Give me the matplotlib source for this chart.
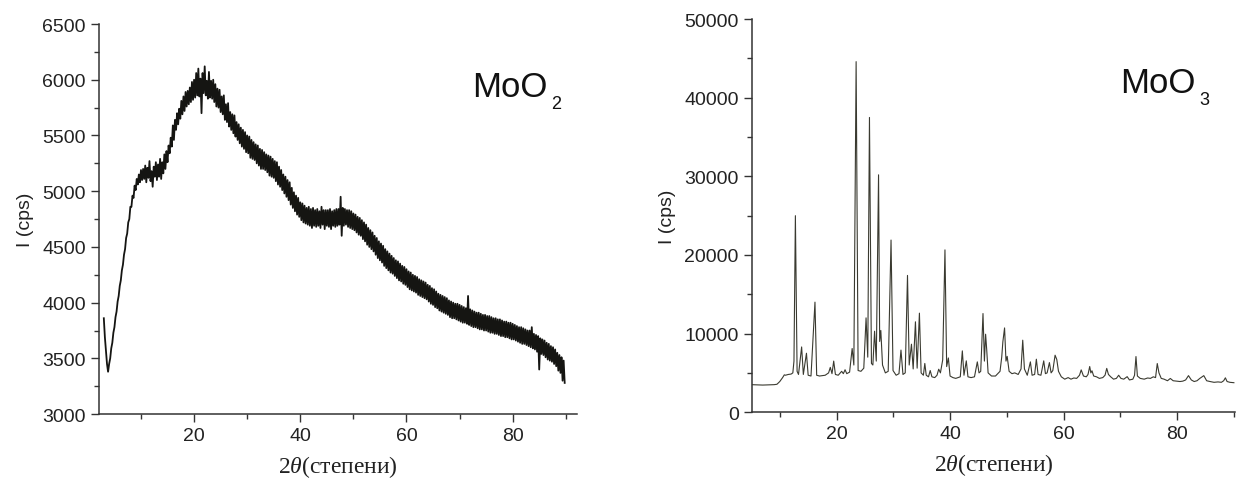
"""
XRD patterns of MoO2 and MoO3 (two panels side by side).
"""

import numpy as np
import matplotlib
matplotlib.use('Agg')
import matplotlib.pyplot as plt
from matplotlib.ticker import MultipleLocator

plt.rcParams['font.family'] = ['Liberation Sans', 'DejaVu Sans']
plt.rcParams['mathtext.fontset'] = 'custom'
plt.rcParams['mathtext.it'] = 'Liberation Serif:italic'
plt.rcParams['mathtext.rm'] = 'Liberation Serif'

# --- MoO2: step scan, start 3.0 deg, step 0.2 deg ---
mo2_start = 3.0
mo2_step = 0.2
mo2_int = [
    3860, 3690, 3570, 3450, 3380, 3450, 3500, 3590, 3640, 3730,
    3780, 3870, 3920, 4010, 4060, 4150, 4200, 4290, 4340, 4430,
    4480, 4580, 4620, 4720, 4750, 4860, 4860, 4960, 4940, 5050,
    5010, 5110, 5060, 5150, 5080, 5190, 5100, 5200, 5110, 5230,
    5080, 5210, 5120, 5270, 5090, 5180, 5040, 5220, 5130, 5260,
    5100, 5240, 5130, 5290, 5110, 5260, 5160, 5330, 5200, 5360,
    5260, 5410, 5340, 5480, 5400, 5590, 5460, 5640, 5550, 5700,
    5600, 5740, 5650, 5810, 5690, 5850, 5720, 5890, 5760, 5900,
    5780, 5930, 5800, 5980, 5820, 6000, 5840, 6060, 5860, 6100,
    5850, 6010, 5700, 6060, 5880, 6120, 5860, 5990, 5830, 6070,
    5840, 5990, 5830, 6000, 5800, 5960, 5760, 5920, 5750, 5910,
    5710, 5850, 5690, 5860, 5640, 5780, 5620, 5790, 5580, 5710,
    5550, 5690, 5520, 5680, 5490, 5620, 5460, 5600, 5430, 5570,
    5400, 5550, 5380, 5530, 5350, 5500, 5340, 5490, 5300, 5460,
    5290, 5440, 5280, 5420, 5250, 5410, 5230, 5380, 5200, 5370,
    5200, 5350, 5190, 5330, 5170, 5320, 5140, 5310, 5130, 5290,
    5120, 5270, 5090, 5260, 5060, 5220, 5040, 5190, 5010, 5150,
    4980, 5130, 4950, 5100, 4920, 5080, 4880, 5030, 4850, 4990,
    4820, 4960, 4790, 4940, 4770, 4900, 4740, 4890, 4720, 4870,
    4710, 4850, 4700, 4860, 4690, 4840, 4670, 4850, 4690, 4830,
    4680, 4840, 4690, 4820, 4670, 4860, 4700, 4830, 4660, 4830,
    4690, 4830, 4680, 4840, 4660, 4820, 4690, 4830, 4680, 4840,
    4690, 4840, 4700, 4950, 4600, 4850, 4690, 4840, 4700, 4830,
    4680, 4830, 4670, 4820, 4660, 4800, 4650, 4790, 4630, 4770,
    4610, 4760, 4600, 4740, 4570, 4720, 4550, 4700, 4520, 4670,
    4500, 4650, 4480, 4630, 4460, 4600, 4430, 4580, 4400, 4550,
    4380, 4530, 4360, 4510, 4330, 4480, 4310, 4460, 4290, 4440,
    4270, 4420, 4260, 4400, 4240, 4380, 4220, 4370, 4200, 4350,
    4190, 4330, 4170, 4320, 4160, 4300, 4140, 4280, 4120, 4270,
    4110, 4250, 4100, 4240, 4090, 4230, 4070, 4210, 4060, 4200,
    4050, 4190, 4040, 4180, 4030, 4160, 4010, 4150, 3990, 4130,
    3980, 4120, 3960, 4100, 3950, 4080, 3930, 4070, 3920, 4060,
    3910, 4050, 3900, 4040, 3890, 4020, 3870, 4010, 3860, 4000,
    3860, 3990, 3850, 3990, 3840, 3980, 3830, 3970, 3820, 3960,
    3820, 3950, 3810, 4060, 3800, 3940, 3790, 3930, 3780, 3920,
    3780, 3910, 3770, 3910, 3760, 3900, 3760, 3890, 3750, 3890,
    3750, 3880, 3740, 3880, 3730, 3870, 3730, 3860, 3720, 3860,
    3720, 3850, 3710, 3850, 3700, 3840, 3700, 3830, 3690, 3830,
    3690, 3820, 3680, 3820, 3670, 3810, 3670, 3800, 3660, 3790,
    3650, 3780, 3640, 3780, 3630, 3770, 3630, 3760, 3620, 3750,
    3610, 3750, 3600, 3780, 3590, 3720, 3580, 3710, 3560, 3700,
    3400, 3680, 3540, 3670, 3530, 3660, 3510, 3640, 3490, 3630,
    3480, 3610, 3470, 3600, 3450, 3580, 3430, 3550, 3390, 3530,
    3370, 3510, 3300, 3480, 3280,
]

# --- MoO3: pattern points (2theta, intensity) ---
mo3_theta = [
    5.0, 7.0, 9.0, 9.5, 10.0, 10.5, 10.8, 11.0, 11.5, 12.0,
    12.3, 12.5, 12.75, 13.05, 13.3, 13.85, 14.15, 14.7, 15.0, 15.5,
    16.2, 16.5, 17.0, 18.0, 18.6, 18.9, 19.2, 19.5, 19.8, 20.3,
    20.9, 21.2, 21.5, 21.8, 22.3, 22.75, 23.05, 23.45, 23.8, 24.3,
    24.8, 25.2, 25.5, 25.8, 26.15, 26.4, 26.7, 27.0, 27.4, 27.6,
    27.8, 28.1, 28.6, 29.1, 29.6, 29.95, 30.5, 31.0, 31.35, 31.7,
    32.1, 32.5, 32.8, 33.2, 33.5, 33.9, 34.2, 34.6, 34.9, 35.3,
    35.55, 35.8, 36.2, 36.5, 36.8, 37.3, 37.7, 38.0, 38.3, 38.7,
    39.1, 39.4, 39.7, 40.0, 40.5, 41.0, 41.8, 42.16, 42.45, 42.86,
    43.15, 43.7, 44.3, 44.8, 45.1, 45.4, 45.8, 46.05, 46.26, 46.45,
    46.7, 47.3, 48.0, 48.8, 49.1, 49.3, 49.6, 49.85, 50.06, 50.4,
    50.9, 51.4, 52.0, 52.5, 52.8, 53.1, 53.6, 54.15, 54.45, 54.9,
    55.2, 55.5, 56.0, 56.5, 56.8, 57.1, 57.5, 57.8, 58.1, 58.5,
    58.8, 59.1, 59.6, 60.2, 60.8, 61.3, 61.8, 62.3, 62.8, 63.1,
    63.5, 64.0, 64.3, 64.6, 64.8, 65.0, 65.3, 65.8, 66.3, 66.9,
    67.3, 67.6, 67.9, 68.3, 68.8, 69.3, 69.7, 70.1, 70.6, 71.2,
    71.6, 72.2, 72.5, 72.75, 73.0, 73.5, 74.2, 74.8, 75.3, 75.8,
    76.2, 76.5, 76.8, 77.2, 77.7, 78.3, 78.8, 79.3, 79.9, 80.5,
    81.0, 81.5, 82.0, 82.5, 83.0, 83.5, 84.0, 84.7, 85.2, 85.8,
    86.5, 87.2, 87.8, 88.2, 88.5, 88.8, 89.3, 90.0,
]
mo3_int = [
    3500, 3450, 3500, 3550, 3900, 4400, 4750, 4700, 4800, 4850,
    5000, 6500, 25000, 5200, 4800, 8300, 4800, 7500, 4700, 4600,
    14000, 4700, 4600, 4700, 5000, 5700, 4900, 6500, 4800, 4700,
    5200, 4900, 5400, 4900, 5100, 8100, 6000, 44600, 5300, 5200,
    5600, 12000, 7000, 37500, 6200, 6000, 10300, 6500, 30200, 9000,
    10400, 6000, 5000, 5200, 21900, 5300, 4700, 4900, 7900, 4800,
    5000, 17400, 6000, 8650, 5500, 11500, 5600, 12600, 5000, 4700,
    6200, 4700, 4500, 5300, 4500, 4400, 4700, 5470, 5000, 6650,
    20650, 5800, 6900, 4600, 4400, 4300, 4500, 7800, 4700, 6530,
    4500, 4400, 4500, 6400, 5000, 5200, 12550, 6500, 9920, 8000,
    5000, 4600, 4600, 5200, 7000, 8950, 10720, 6500, 7100, 5200,
    4900, 5000, 4800, 5500, 9160, 5500, 4700, 6400, 4700, 4800,
    6740, 4800, 4700, 6530, 4900, 5000, 6310, 5000, 5300, 7250,
    6700, 5200, 4500, 4200, 4400, 4200, 4350, 4300, 4700, 5380,
    4600, 4500, 4800, 5810, 5000, 5270, 4600, 4500, 4300, 4400,
    4700, 5570, 4800, 4500, 4200, 4300, 4700, 4300, 4200, 4520,
    4100, 4200, 4700, 7080, 4600, 4300, 4200, 4350, 4300, 4500,
    4400, 6190, 5000, 4300, 4200, 4000, 4290, 4000, 3950, 3900,
    3950, 4100, 4650, 4100, 3900, 4000, 4300, 4650, 4000, 3900,
    3800, 3850, 3800, 4000, 4370, 3900, 3800, 3750,
]

mo2_theta = mo2_start + mo2_step * np.arange(len(mo2_int))

fig = plt.figure(figsize=(12.38, 4.81), dpi=100)
ax1 = fig.add_axes([0.080, 0.137, 0.386, 0.811])
ax2 = fig.add_axes([0.6074, 0.141, 0.3902, 0.817])

ax1.plot(mo2_theta, mo2_int, color='#151512', lw=1.3)
ax2.plot(mo3_theta, mo3_int, color='#3a3a30', lw=0.8)

for ax in (ax1, ax2):
    for side in ('top', 'right'):
        ax.spines[side].set_visible(False)
    for side in ('left', 'bottom'):
        ax.spines[side].set_color('#333333')
        ax.spines[side].set_linewidth(1.1)
    ax.xaxis.set_major_locator(MultipleLocator(20))
    ax.xaxis.set_minor_locator(MultipleLocator(10))
    ax.tick_params(which='major', length=6, width=1.0, color='#333333',
                   labelsize=14, labelcolor='#222222')
    ax.tick_params(which='minor', length=3.5, width=1.0, color='#333333')
    ax.set_ylabel('I (cps)', fontsize=14, color='#222222', labelpad=6)
    ax.set_xlabel(r'2$\theta$(степени)', fontsize=17, family='Liberation Serif',
                  labelpad=6, color='#222222')

ax1.set_xlim(2.1, 92.1)
ax1.set_ylim(3000, 6500)
ax1.yaxis.set_major_locator(MultipleLocator(500))
ax1.yaxis.set_minor_locator(MultipleLocator(250))

ax2.set_xlim(5.1, 90.2)
ax2.set_ylim(0, 50000)
ax2.yaxis.set_major_locator(MultipleLocator(10000))
ax2.yaxis.set_minor_locator(MultipleLocator(5000))

# formula labels: large "MoO" with a lowered subscript digit
for ax, (x0, y0), sub in ((ax1, (0.78, 0.815), '2'), (ax2, (0.762, 0.814), '3')):
    t = ax.text(x0, y0, 'MoO', transform=ax.transAxes, fontsize=25,
                color='#111111', va='baseline')
    ax.annotate(sub, xy=(1, 0), xycoords=t, xytext=(3, 6),
                textcoords='offset points', fontsize=13, color='#111111',
                ha='left', va='top')

plt.savefig('out.png', dpi=100)
